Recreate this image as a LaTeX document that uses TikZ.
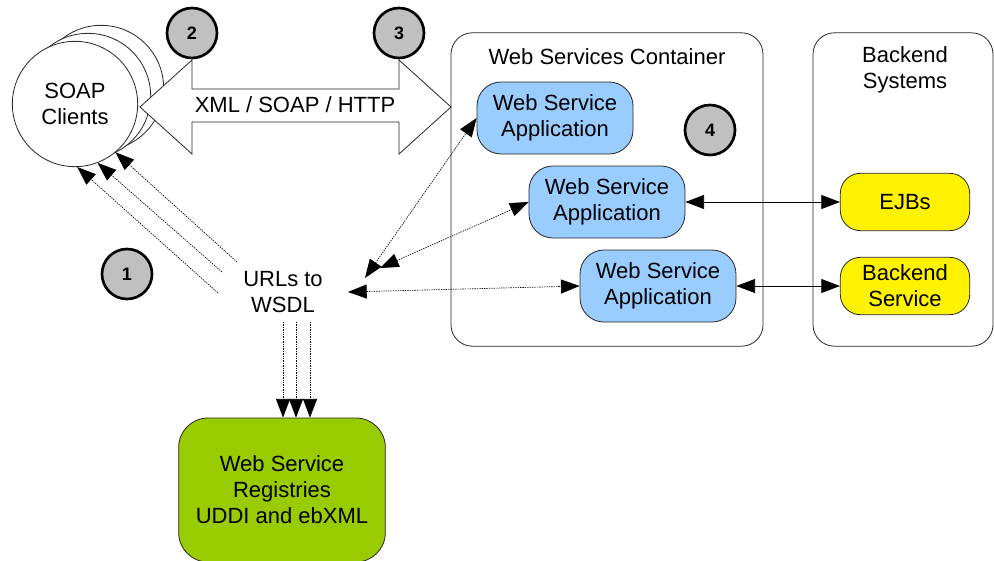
\documentclass[tikz,border=0pt]{standalone}
\usepackage{fontspec}
\setmainfont{Liberation Sans}
\usetikzlibrary{arrows.meta,calc,positioning}

\definecolor{appblue}{HTML}{99CCFF}
\definecolor{regreen}{HTML}{99CC00}
\definecolor{badgegray}{HTML}{C0C0C0}

\tikzset{
  frame/.style={draw=black!85, line width=0.6pt, rounded corners=16pt},
  client/.style={circle, draw=black!85, fill=white, line width=0.6pt, minimum size=94pt, inner sep=0pt},
  app/.style={draw=black!85, fill=appblue, line width=0.6pt, rounded corners=18pt,
    minimum width=117pt, minimum height=54pt, align=center},
  backend/.style={draw=black!85, fill=yellow, line width=0.6pt, rounded corners=15pt,
    minimum width=97pt, minimum height=43pt, align=center},
  badge/.style={circle, draw, line width=2pt, fill=badgegray, minimum size=37.5pt,
    inner sep=0pt, font=\fontsize{13.5}{15}\selectfont\bfseries},
  tip/.tip={Triangle[length=14pt,width=10.5pt]},
  feed/.style={line width=0.5pt, dash pattern=on 1pt off 0.8pt, -tip},
  link/.style={line width=0.5pt, dash pattern=on 1pt off 0.8pt, tip-tip},
  wire/.style={line width=0.6pt, tip-tip}
}

\begin{document}
\begin{tikzpicture}[x=0.75pt, y=-0.75pt, font=\fontsize{16.5}{19.5}\selectfont]
    \useasboundingbox (0,0) rectangle (994,560);
    \clip (0,0) rectangle (994,560);

    % Containers
    \node[frame, minimum width=234pt, minimum height=235pt] (wsc) at (607,189.5) {};
    \node (wsctitle) at (607,57) {Web Services Container};
    \node[frame, minimum width=135pt, minimum height=235pt] (bes) at (903,189.5) {};
    \node[align=center] (bestitle) at (905,70) {Backend\\Systems};

    % SOAP clients (stacked)
    \node[client] (client3) at (101,88) {};
    \node[client] (client2) at (88,96) {};
    \node[client, align=center] (clients) at (75,104) {SOAP\\Clients};

    % Protocol arrow
    \draw[draw=black!85, fill=white, line width=0.6pt]
      (140,107) -- (192,60) -- (192,89) -- (399,89) -- (399,60) -- (451,107)
      -- (399,154) -- (399,122) -- (192,122) -- (192,154) -- cycle;
    \node (proto) at (295,105) {XML / SOAP / HTTP};

    % Web service applications
    \node[app] (wsa1) at (555,118) {Web Service\\Application};
    \node[app] (wsa2) at (607,202) {Web Service\\Application};
    \node[app] (wsa3) at (658,286) {Web Service\\Application};

    % Backends
    \node[backend] (ejb) at (905,202) {EJBs};
    \node[backend] (bsvc) at (905,286) {Backend\\Service};

    % Registry
    \node[draw=black!85, fill=regreen, line width=0.6pt, rounded corners=22pt,
      minimum width=155pt, minimum height=108pt, align=center] (reg) at (282,490)
      {Web Service\\Registries\\UDDI and ebXML};

    % WSDL
    \node[align=center] (urls) at (283,292) {URLs to\\WSDL};

    % Numbered steps
    \node[badge] (b1) at (127,274) {1};
    \node[badge] (b2) at (192,33) {2};
    \node[badge] (b3) at (399,33) {3};
    \node[badge] (b4) at (710,130) {4};

    % URLs handed to the clients
    \coordinate (u1) at (218,293);
    \coordinate (u2) at (222,272);
    \coordinate (u3) at (237,262);
    \draw[feed] (u1) -- (clients.-88);
    \draw[feed] (u2) -- (clients.-69);
    \draw[feed] (u3) -- (clients.-50);

    % URLs published by the applications
    \coordinate (w1) at (365,278);
    \coordinate (w2) at (380,268);
    \coordinate (w3) at (348,292);
    \draw[link] (w1) -- (wsa1.west);
    \draw[link] (w2) -- (wsa2.west);
    \draw[link] (w3) -- (wsa3.west);

    % URLs registered
    \coordinate (r1) at (283,322);
    \coordinate (r2) at (296,322);
    \coordinate (r3) at (310,322);
    \draw[feed] (r1) -- (r1 |- reg.north);
    \draw[feed] (r2) -- (r2 |- reg.north);
    \draw[feed] (r3) -- (r3 |- reg.north);

    % Backend calls
    \draw[wire] (wsa2) -- (ejb);
    \draw[wire] (wsa3) -- (bsvc);
\end{tikzpicture}
\end{document}
